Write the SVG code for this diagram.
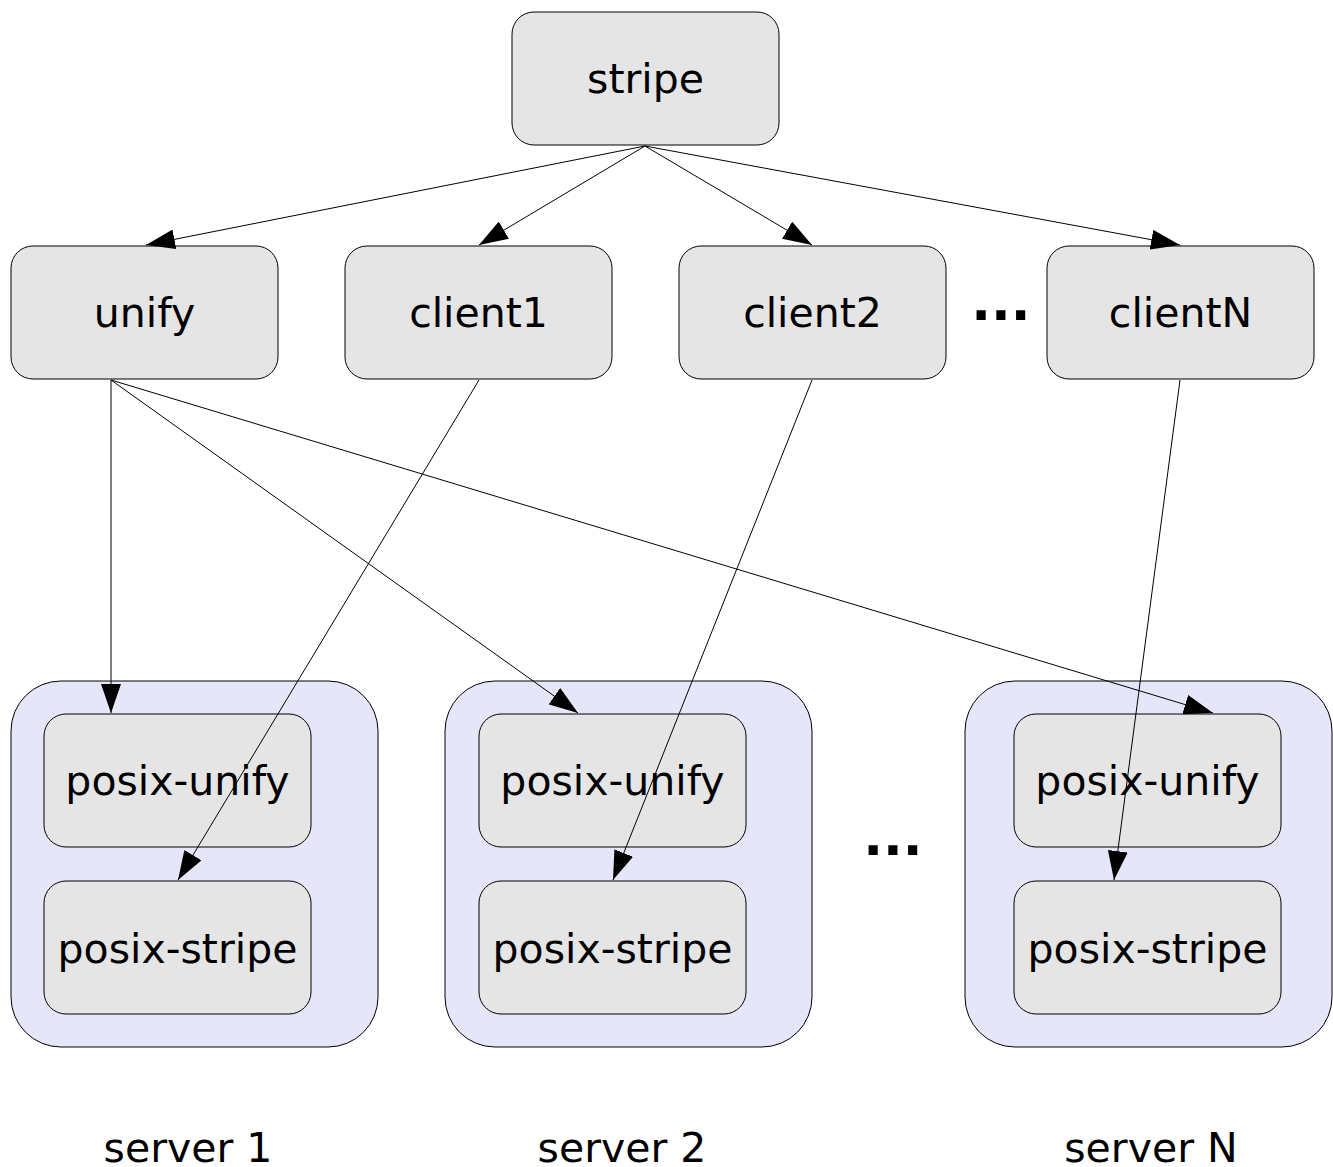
<svg xmlns="http://www.w3.org/2000/svg" width="1333" height="1167" viewBox="0 0 1333 1167">
<style>
.node{fill:#e5e5e5;stroke:#000;stroke-width:1}
.cluster{fill:#e6e6fa;stroke:#000;stroke-width:1}
.lbl{font-family:"DejaVu Sans",sans-serif;font-size:41px;text-anchor:middle;fill:#000}
.dots{font-family:"DejaVu Sans",sans-serif;font-weight:bold;font-size:52px;text-anchor:middle;fill:#000}
.edge{stroke:#000;stroke-width:1;fill:none;marker-end:url(#arr)}
</style>
<defs>
<marker id="arr" viewBox="0 0 29 20" refX="29" refY="10" markerWidth="29" markerHeight="20" markerUnits="userSpaceOnUse" orient="auto">
<path d="M0,0 L29,10 L0,20 z" fill="#000"/>
</marker>
</defs>
<g id="server1">
<rect class="cluster" x="11" y="681" width="367" height="366" rx="50"/>
<text class="lbl" x="188" y="1162">server 1</text>
</g>
<g id="server2">
<rect class="cluster" x="445" y="681" width="367" height="366" rx="50"/>
<text class="lbl" x="622" y="1162">server 2</text>
</g>
<g id="serverN">
<rect class="cluster" x="965" y="681" width="367" height="366" rx="50"/>
<text class="lbl" x="1151" y="1162">server N</text>
</g>
<g id="stripe"><rect class="node" x="512" y="12" width="267" height="133" rx="22"/><text class="lbl" x="645.5" y="93">stripe</text></g>
<g id="unify"><rect class="node" x="11" y="246" width="267" height="133" rx="22"/><text class="lbl" x="144.5" y="327">unify</text></g>
<g id="client1"><rect class="node" x="345" y="246" width="267" height="133" rx="22"/><text class="lbl" x="478.5" y="327">client1</text></g>
<g id="client2"><rect class="node" x="679" y="246" width="267" height="133" rx="22"/><text class="lbl" x="812.5" y="327">client2</text></g>
<g id="clientN"><rect class="node" x="1047" y="246" width="267" height="133" rx="22"/><text class="lbl" x="1180.5" y="327">clientN</text></g>
<g id="pu1"><rect class="node" x="44" y="714" width="267" height="133" rx="22"/><text class="lbl" x="177.5" y="795">posix-unify</text></g>
<g id="ps1"><rect class="node" x="44" y="881" width="267" height="133" rx="22"/><text class="lbl" x="177.5" y="963">posix-stripe</text></g>
<g id="pu2"><rect class="node" x="479" y="714" width="267" height="133" rx="22"/><text class="lbl" x="612.5" y="795">posix-unify</text></g>
<g id="ps2"><rect class="node" x="479" y="881" width="267" height="133" rx="22"/><text class="lbl" x="612.5" y="963">posix-stripe</text></g>
<g id="puN"><rect class="node" x="1014" y="714" width="267" height="133" rx="22"/><text class="lbl" x="1147.5" y="795">posix-unify</text></g>
<g id="psN"><rect class="node" x="1014" y="881" width="267" height="133" rx="22"/><text class="lbl" x="1147.5" y="963">posix-stripe</text></g>
<g id="ellipsis">
<text class="dots" x="1001" y="320">...</text>
<text class="dots" x="893" y="855">...</text>
</g>
<g id="edges">
<line class="edge" x1="645" y1="146" x2="146" y2="245"/>
<line class="edge" x1="645" y1="146" x2="479" y2="245"/>
<line class="edge" x1="645" y1="146" x2="812" y2="245"/>
<line class="edge" x1="645" y1="146" x2="1180" y2="245"/>
<line class="edge" x1="111" y1="380" x2="111" y2="713"/>
<line class="edge" x1="111" y1="380" x2="578" y2="713"/>
<line class="edge" x1="111" y1="380" x2="1213" y2="713"/>
<line class="edge" x1="479" y1="380" x2="178" y2="880"/>
<line class="edge" x1="812" y1="380" x2="613" y2="880"/>
<line class="edge" x1="1180" y1="380" x2="1114" y2="880"/>
</g>
</svg>
